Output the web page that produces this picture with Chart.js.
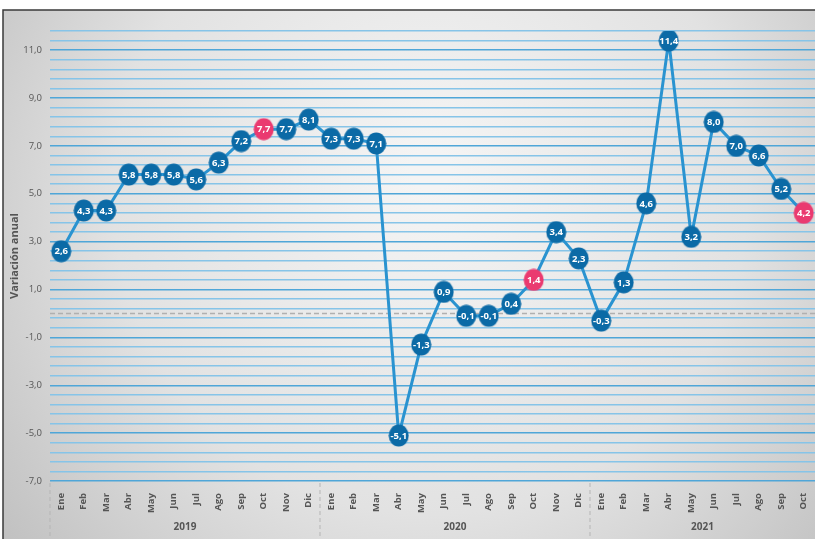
<!DOCTYPE html>
<html>
<head>
<meta charset="utf-8">
<script src="https://cdn.jsdelivr.net/npm/chart.js@4.4.1/dist/chart.umd.min.js"></script>
<style>
  html, body { margin: 0; padding: 0; background: #fff; }
  #wrap { width: 815px; height: 539px; }
</style>
</head>
<body>
<div id="wrap"><canvas id="grafico" width="815" height="539"></canvas></div>
<script>
// datos
const meses = ['Ene','Feb','Mar','Abr','May','Jun','Jul','Ago','Sep','Oct','Nov','Dic',
               'Ene','Feb','Mar','Abr','May','Jun','Jul','Ago','Sep','Oct','Nov','Dic',
               'Ene','Feb','Mar','Abr','May','Jun','Jul','Ago','Sep','Oct'];
const anios = ['2019', '2020', '2021'];
const mesesPorAnio = [12, 12, 10];
const variacion = [2.6, 4.3, 4.3, 5.8, 5.8, 5.8, 5.6, 6.3, 7.2, 7.7, 7.7, 8.1,
                   7.3, 7.3, 7.1, -5.1, -1.3, 0.9, -0.1, -0.1, 0.4, 1.4, 3.4, 2.3,
                   -0.3, 1.3, 4.6, 11.4, 3.2, 8.0, 7.0, 6.6, 5.2, 4.2];
const destacados = [9, 21, 33]; // puntos en rosa (Oct)

const azul = '#0b6aa6';
const rosa = '#ea3a70';
const linea = '#2a93d0';

function elipse(color) {
  const c = document.createElement('canvas');
  c.width = 21; c.height = 23;
  const g = c.getContext('2d');
  g.fillStyle = color;
  g.beginPath();
  g.ellipse(10.5, 11.5, 10, 11, 0, 0, Math.PI * 2);
  g.fill();
  return c;
}
const puntoAzul = elipse(azul);
const puntoRosa = elipse(rosa);
const estilos = variacion.map((v, i) => destacados.includes(i) ? puntoRosa : puntoAzul);

const fmt = v => v.toFixed(1).replace('.', ',');

// fondo, marco, linea cero, etiquetas y años
const decoracion = {
  id: 'decoracion',
  beforeDraw(chart) {
    const ctx = chart.ctx;
    ctx.save();
    ctx.fillStyle = '#fff';
    ctx.fillRect(0, 0, chart.width, chart.height);
    const grad = ctx.createRadialGradient(430, 170, 20, 430, 220, 560);
    grad.addColorStop(0, '#f4f4f4');
    grad.addColorStop(0.55, '#e2e2e2');
    grad.addColorStop(1, '#bdbdbd');
    ctx.fillStyle = grad;
    ctx.fillRect(3, 10, chart.width - 3, chart.height - 10);
    ctx.strokeStyle = '#3a3a3a';
    ctx.lineWidth = 1.5;
    ctx.beginPath();
    ctx.moveTo(3, chart.height);
    ctx.lineTo(3, 10);
    ctx.lineTo(chart.width, 10);
    ctx.stroke();
    ctx.restore();
  },
  beforeDatasetsDraw(chart) {
    const ctx = chart.ctx;
    const y = chart.scales.y.getPixelForValue(0);
    const a = chart.chartArea;
    ctx.save();
    ctx.strokeStyle = '#b0b0b0';
    ctx.lineWidth = 1.5;
    ctx.setLineDash([5, 3]);
    ctx.beginPath();
    ctx.moveTo(a.left, y);
    ctx.lineTo(a.right, y);
    ctx.stroke();
    ctx.restore();
  },
  afterDraw(chart) {
    const ctx = chart.ctx;
    const x = chart.scales.x;
    const a = chart.chartArea;
    ctx.save();
    // separadores de año
    ctx.strokeStyle = '#b5b5b5';
    ctx.lineWidth = 1;
    ctx.setLineDash([4, 3]);
    let inicio = 0;
    const bordes = [inicio];
    mesesPorAnio.forEach(n => { inicio += n; bordes.push(inicio); });
    bordes.slice(0, 3).forEach(b => {
      const px = b === 0 ? a.left : (x.getPixelForValue(b - 1) + x.getPixelForValue(b)) / 2;
      ctx.beginPath();
      ctx.moveTo(px, a.bottom + 2);
      ctx.lineTo(px, chart.height);
      ctx.stroke();
    });
    ctx.setLineDash([]);
    // años
    ctx.fillStyle = '#555';
    ctx.font = 'bold 10px "Open Sans", sans-serif';
    ctx.textAlign = 'center';
    ctx.textBaseline = 'middle';
    anios.forEach((anio, i) => {
      const cx = (x.getPixelForValue(bordes[i]) + x.getPixelForValue(bordes[i + 1] - 1)) / 2;
      ctx.fillText(anio, cx, 527);
    });
    // etiquetas de los puntos
    const meta = chart.getDatasetMeta(0);
    ctx.fillStyle = '#fff';
    ctx.font = 'bold 9.5px "Liberation Sans Narrow", "Open Sans", sans-serif';
    meta.data.forEach((p, i) => {
      ctx.fillText(fmt(variacion[i]), p.x, p.y + 0.5);
    });
    ctx.restore();
  }
};

const ctx = document.getElementById('grafico').getContext('2d');
new Chart(ctx, {
  type: 'line',
  data: {
    labels: meses,
    datasets: [{
      data: variacion,
      borderColor: linea,
      borderWidth: 3,
      pointStyle: estilos,
      pointRadius: 10,
      pointHoverRadius: 10,
      tension: 0
    }]
  },
  options: {
    responsive: false,
    animation: false,
    layout: { autoPadding: false, padding: { top: 31, right: 0, left: 8, bottom: 0 } },
    plugins: { legend: { display: false }, tooltip: { enabled: false } },
    scales: {
      x: {
        offset: true,
        grid: { display: false },
        border: { display: false },
        afterFit: s => { s.height = 58; s.paddingRight = 0; s.paddingLeft = 0; },
        ticks: {
          minRotation: 90,
          maxRotation: 90,
          autoSkip: false,
          padding: 4,
          color: '#555',
          font: { family: '"Open Sans", sans-serif', size: 9.5, weight: 'bold' }
        }
      },
      y: {
        min: -7,
        max: 11.8,
        afterFit: s => { s.width = 42; },
        border: { display: false },
        title: {
          display: true,
          text: 'Variación anual',
          color: '#555',
          padding: 0,
          font: { family: '"Open Sans", sans-serif', size: 11, weight: 'bold' }
        },
        grid: {
          drawTicks: false,
          lineWidth: 1.5,
          color: c => {
            const v = Math.round(c.tick.value * 10) / 10;
            return Math.abs(((v + 7) / 2) - Math.round((v + 7) / 2)) < 0.01 ? '#4fa6d8' : '#86c4e8';
          }
        },
        ticks: {
          stepSize: 0.4,
          autoSkip: false,
          padding: 8,
          color: '#555',
          font: { family: '"Open Sans", sans-serif', size: 9.5 },
          callback: value => {
            const v = Math.round(value * 10) / 10;
            return Math.abs(((v + 7) / 2) - Math.round((v + 7) / 2)) < 0.01 ? fmt(v) : '';
          }
        }
      }
    }
  },
  plugins: [decoracion]
});
</script>
</body>
</html>
